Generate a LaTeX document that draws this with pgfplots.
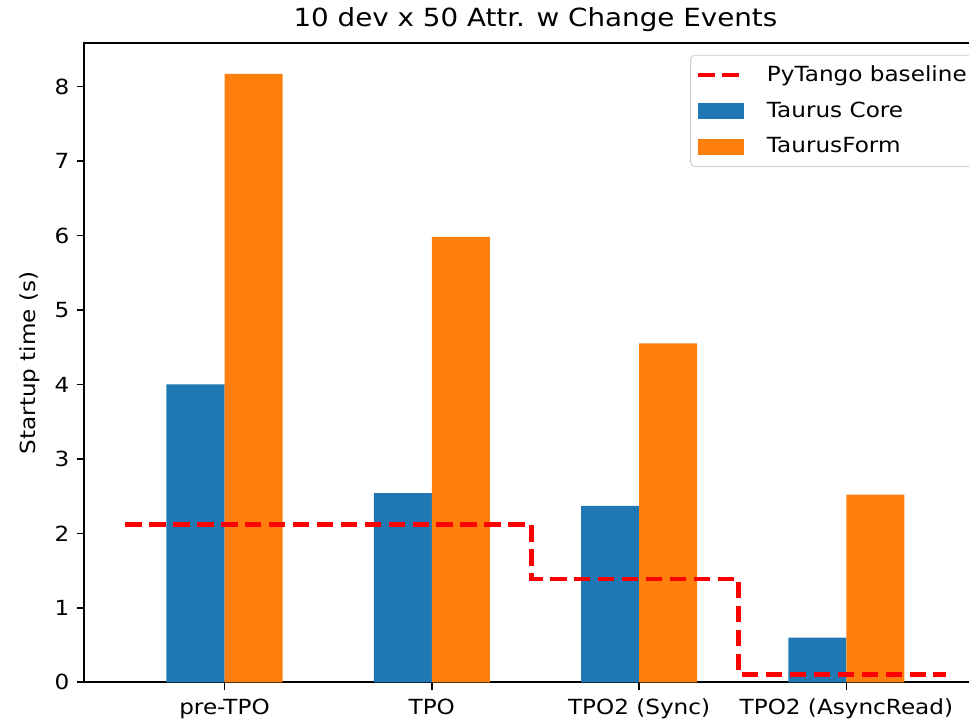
\documentclass[border=0pt]{standalone}
\usepackage{fontspec}
\setmainfont{DejaVu Sans}[FakeStretch=1.11]
\usepackage{pgfplots}
\pgfplotsset{compat=1.18}
\definecolor{mplblue}{HTML}{1F77B4}
\definecolor{mplorange}{HTML}{FF7F0E}
\begin{document}
\begin{tikzpicture}
\begin{axis}[
  scale only axis,
  width=433.4pt, height=306.7pt,
  xmin=-0.678, xmax=3.678,
  ymin=0, ymax=8.58,
  xtick={0,1,2,3},
  xticklabels={pre-TPO,TPO,TPO2 (Sync),TPO2 (AsyncRead)},
  ytick={0,1,2,3,4,5,6,7,8},
  xtick pos=left, ytick pos=left,
  tick align=outside,
  major tick length=3.5pt,
  every tick/.style={black, line width=0.8pt},
  axis line style={line width=0.8pt},
  tick label style={font=\fontsize{10}{12}\selectfont},
  /pgf/number format/assume math mode=true,
  xticklabel style={yshift=-1pt},
  ylabel={Startup time (s)},
  ylabel style={font=\fontsize{10}{12}\selectfont},
  title={10 dev x 50 Attr. w Change Events},
  title style={font=\fontsize{12}{14}\selectfont, at={(0.5,1)}, anchor=base, yshift=2pt},
  legend cell align=left,
  legend style={at={(1,1)}, anchor=north east, xshift=-5pt, yshift=-5.5pt,
    font=\fontsize{10}{12}\selectfont, draw=black!20, rounded corners=2pt,
    row sep=4.3pt, inner xsep=2.5pt, inner ysep=3pt,
    /tikz/every odd column/.append style={column sep=9pt}},
]
\addlegendimage{legend image code/.code={\draw[red, sharp corners, line width=2.2pt, dash pattern=on 8pt off 3.5pt] (0pt,0pt) -- (20pt,0pt);}, }
\addlegendentry{PyTango baseline}
\addplot[ybar, bar width=0.28, bar shift=0pt, fill=mplblue, draw=none,
  legend image code/.code={\fill[mplblue, sharp corners] (0pt,-4pt) rectangle (22pt,4pt);}]
  coordinates {(-0.14,4.00) (0.86,2.54) (1.86,2.37) (2.86,0.60)};
\addlegendentry{Taurus Core}
\addplot[ybar, bar width=0.28, bar shift=0pt, fill=mplorange, draw=none,
  legend image code/.code={\fill[mplorange, sharp corners] (0pt,-4pt) rectangle (22pt,4pt);}]
  coordinates {(0.14,8.17) (1.14,5.98) (2.14,4.55) (3.14,2.52)};
\addlegendentry{TaurusForm}
\addplot[const plot, red, line width=2.2pt, dash pattern=on 8pt off 3.5pt, forget plot]
  coordinates {(-0.48,2.12) (1.48,1.39) (2.48,0.107) (3.48,0.107)};
\end{axis}
\pgfresetboundingbox
\path[use as bounding box] (-40.3pt,-19.5pt) rectangle (424.8pt,327.5pt);
\end{tikzpicture}
\end{document}
